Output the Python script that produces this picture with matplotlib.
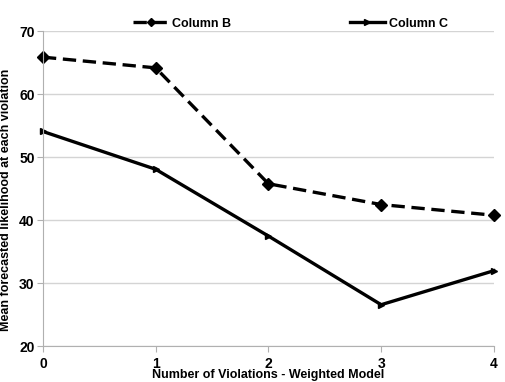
#!/usr/bin/env python
# coding:utf-8

"""
plot.py
"""

import matplotlib
matplotlib.use("Agg")
import matplotlib.pyplot as plt

violations = [0, 1, 2, 3, 4]
column_b = [65.9, 64.2, 45.8, 42.5, 40.8]
column_c = [54.1, 48.1, 37.5, 26.6, 32.0]
y_ticks = [20, 30, 40, 50, 60, 70]


def main():
    plt.rcParams["font.family"] = ["Liberation Sans", "DejaVu Sans"]
    plt.rcParams["font.weight"] = "bold"

    fig = plt.figure(figsize=(5.05, 3.82), dpi=100)
    ax = fig.add_axes([0.085, 0.0935, 0.893, 0.8245])

    ax.plot(violations, column_b, color="black", lw=2.4, ls=(0, (4, 2)),
            marker="D", ms=6, label="Column B", clip_on=False)
    ax.plot(violations, column_c, color="black", lw=2.4,
            marker=">", ms=5, label="Column C", clip_on=False)

    ax.set_xlim(0, 4)
    ax.set_ylim(20, 70)
    ax.set_xticks(violations)
    ax.set_yticks(y_ticks)
    ax.yaxis.grid(True, color="#d4d4d4", lw=1)
    ax.set_axisbelow(True)
    for s in ["top", "right"]:
        ax.spines[s].set_visible(False)
    for s in ["left", "bottom"]:
        ax.spines[s].set_color("#b0b0b0")
    ax.tick_params(axis="both", colors="#b0b0b0", labelcolor="black",
                   labelsize=10, length=4)
    ax.tick_params(axis="y", pad=2)
    for lab in ax.get_xticklabels() + ax.get_yticklabels():
        lab.set_fontweight("bold")

    ax.set_xlabel("Number of Violations - Weighted Model", fontsize=9,
                  fontweight="bold", labelpad=-1)
    ax.set_ylabel("Mean forecasted likelihood at each violation", fontsize=9,
                  fontweight="bold")
    ax.yaxis.set_label_coords(-0.068, 0.464)

    fig.legend(loc="center", bbox_to_anchor=(0.575, 0.938), ncol=2,
               frameon=False, handlelength=2.8, markerscale=0.75,
               handletextpad=0.3, columnspacing=9.5,
               prop={"weight": "bold", "size": 9})

    fig.savefig("out.png", dpi=100)


if __name__ == "__main__":
    main()
